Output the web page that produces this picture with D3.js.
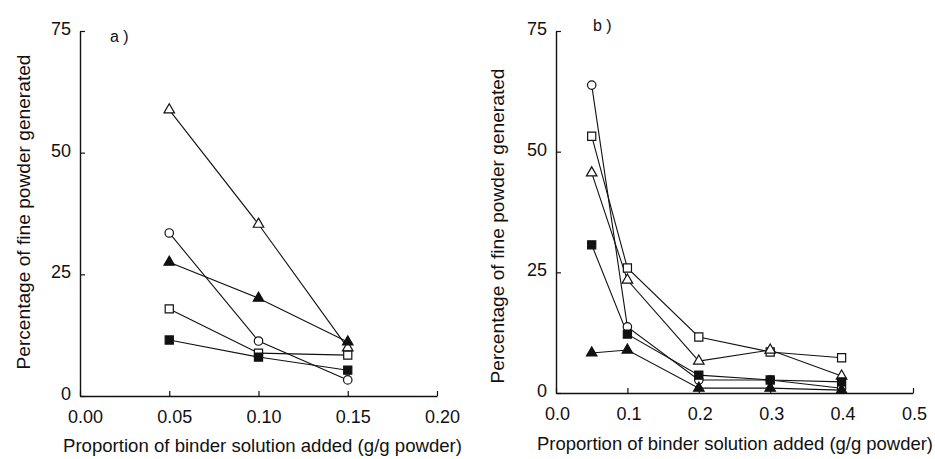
<!DOCTYPE html>
<html>
<head>
<meta charset="utf-8">
<script src="https://cdn.jsdelivr.net/npm/d3@7"></script>
<style>
  html, body { margin: 0; padding: 0; background: #fff; }
  svg { display: block; }
  text { font-family: "Liberation Sans", Arial, Helvetica, sans-serif; fill: #111; }
</style>
</head>
<body>
<svg id="chart" width="935" height="459"></svg>
<script>
// ---------- Data ----------
const xA = [0.05, 0.10, 0.15];
const openTriangleA   = [58.8, 35.3, 9.9];
const openCircleA     = [33.5, 11.3, 3.3];
const filledTriangleA = [27.5, 20.1, 11.1];
const openSquareA     = [17.9, 8.8, 8.4];
const filledSquareA   = [11.5, 8.0, 5.3];

const xB = [0.05, 0.1, 0.2, 0.3, 0.4];
const openCircleB     = [63.8, 13.7, 2.7, 2.7, 1.0];
const openSquareB     = [53.2, 25.9, 11.6, 8.5, 7.3];
const openTriangleB   = [45.6, 23.4, 6.6, 8.9, 3.5];
const filledSquareB   = [30.7, 12.2, 3.7, 2.7, 2.3];
const filledTriangleB = [8.3, 8.9, 1.0, 1.0, 0.6];

const xTicksA = [0, 0.05, 0.10, 0.15, 0.20];
const xTicksB = [0, 0.1, 0.2, 0.3, 0.4, 0.5];
const yTicks = [0, 25, 50, 75];

const yTitle = "Percentage of fine powder generated";
const xTitle = "Proportion of binder solution added (g/g powder)";

// ---------- Drawing ----------
const svg = d3.select("#chart");

function panel(cfg) {
  const g = svg.append("g");
  const x = d3.scaleLinear().domain(cfg.xDomain).range(cfg.xRange);
  const y = d3.scaleLinear().domain([0, 75]).range(cfg.yRange);

  // axes
  const ax = g.append("g").attr("transform", `translate(0,${cfg.yRange[0]})`)
    .call(d3.axisBottom(x).tickValues(cfg.xTicks).tickFormat(d3.format(cfg.xFmt))
      .tickSize(-5).tickSizeOuter(0).tickPadding(14));
  ax.selectAll("text").attr("font-size", 18).attr("dx", cfg.xLabelDx);
  const ay = g.append("g").attr("transform", `translate(${cfg.xRange[0]},0)`)
    .call(d3.axisLeft(y).tickValues(yTicks).tickFormat(d3.format("d"))
      .tickSize(-5).tickSizeOuter(0).tickPadding(9));
  ay.selectAll("text").attr("font-size", 18).attr("dy", "0.2em");
  [ax, ay].forEach(a => {
    a.select(".domain").attr("stroke", "#111").attr("stroke-width", 1.4);
    a.selectAll(".tick line").attr("stroke", "#111").attr("stroke-width", 1.2);
    a.selectAll("text").attr("fill", "#111")
      .attr("font-family", '"Liberation Sans", Arial, sans-serif');
  });

  // lines
  const line = d3.line().x(d => x(d[0])).y(d => y(d[1]));
  cfg.series.forEach(s => {
    const pts = cfg.xs.map((xv, i) => [xv, s.values[i]]);
    g.append("path").datum(pts).attr("d", line)
      .attr("fill", "none").attr("stroke", "#111").attr("stroke-width", 1.1);
  });
  // markers
  const shapes = {
    square: d3.symbol().type(d3.symbolSquare).size(66),
    circle: d3.symbol().type(d3.symbolCircle).size(56),
    triangle: d3.symbol().type(d3.symbolTriangle).size(48)
  };
  cfg.series.forEach(s => {
    const pts = cfg.xs.map((xv, i) => [xv, s.values[i]]);
    g.selectAll(null).data(pts).enter().append("path")
      .attr("d", shapes[s.shape]())
      .attr("transform", d => `translate(${x(d[0])},${y(d[1])})`)
      .attr("fill", s.filled ? "#111" : "#fff")
      .attr("stroke", "#111").attr("stroke-width", 1.2);
  });

  // titles
  g.append("text").attr("x", cfg.xTitlePos[0]).attr("y", cfg.xTitlePos[1])
    .attr("text-anchor", "middle").attr("font-size", 18.5)
    .attr("textLength", cfg.xTitleLen).attr("lengthAdjust", "spacingAndGlyphs")
    .text(xTitle);
  g.append("text")
    .attr("transform", `translate(${cfg.yTitlePos[0]},${cfg.yTitlePos[1]}) rotate(-90)`)
    .attr("text-anchor", "middle").attr("font-size", 19)
    .attr("textLength", 315).attr("lengthAdjust", "spacingAndGlyphs")
    .text(yTitle);
  g.append("text").attr("x", cfg.labelPos[0]).attr("y", cfg.labelPos[1])
    .attr("font-size", 16).text(cfg.label);
}

panel({
  xDomain: [0, 0.2], xRange: [80, 437], yRange: [396, 31],
  xTicks: xTicksA, xFmt: ".2f", xLabelDx: 5, xs: xA,
  series: [
    {values: openTriangleA, shape: "triangle", filled: false},
    {values: openCircleA, shape: "circle", filled: false},
    {values: filledTriangleA, shape: "triangle", filled: true},
    {values: openSquareA, shape: "square", filled: false},
    {values: filledSquareA, shape: "square", filled: true}
  ],
  xTitlePos: [262.5, 452], xTitleLen: 399,
  yTitlePos: [30, 212],
  labelPos: [110, 42], label: "a )"
});

panel({
  xDomain: [0, 0.5], xRange: [556, 913], yRange: [393, 31],
  xTicks: xTicksB, xFmt: ".1f", xLabelDx: 1, xs: xB,
  series: [
    {values: openCircleB, shape: "circle", filled: false},
    {values: openSquareB, shape: "square", filled: false},
    {values: openTriangleB, shape: "triangle", filled: false},
    {values: filledSquareB, shape: "square", filled: true},
    {values: filledTriangleB, shape: "triangle", filled: true}
  ],
  xTitlePos: [735, 450], xTitleLen: 396,
  yTitlePos: [504, 226],
  labelPos: [593, 31], label: "b )"
});
</script>
</body>
</html>
